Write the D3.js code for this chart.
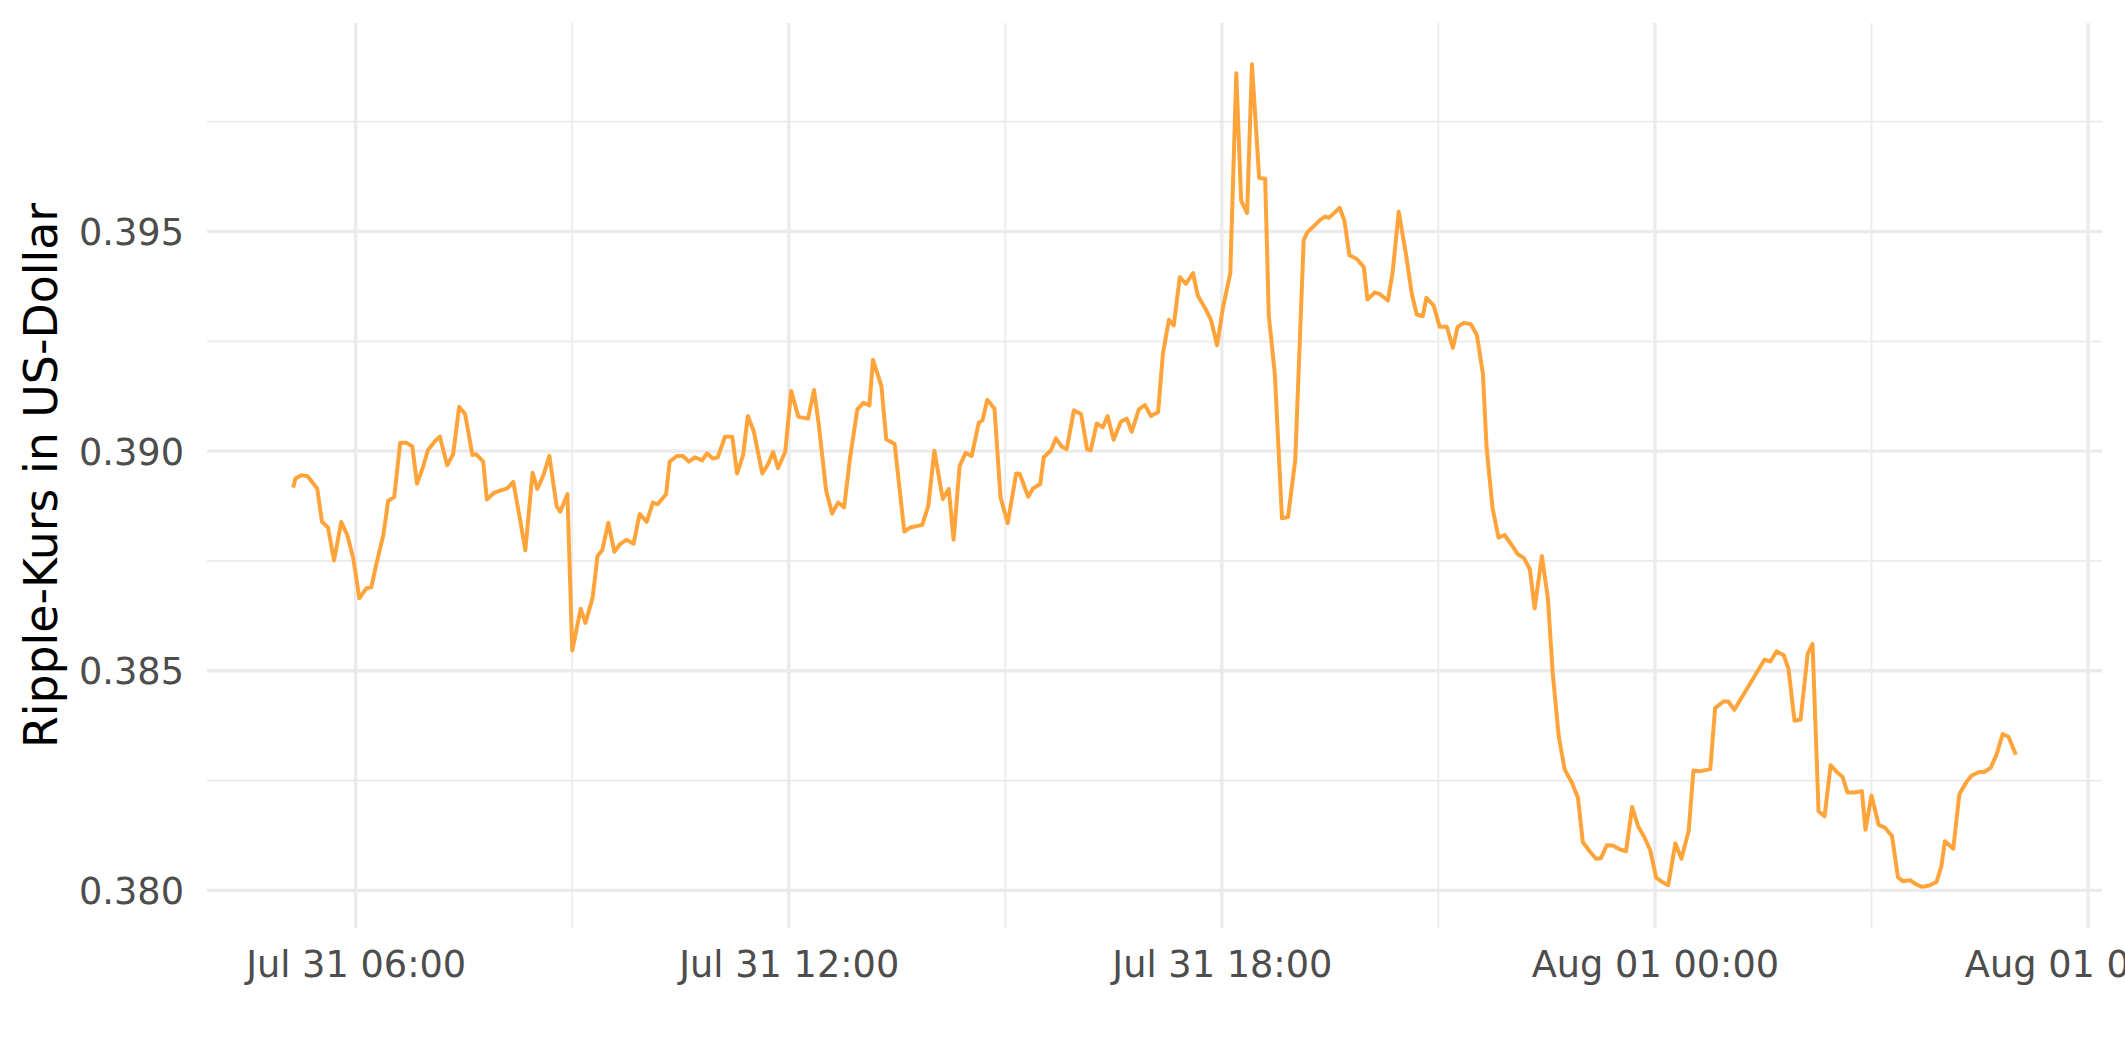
<!DOCTYPE html>
<html>
<head>
<meta charset="utf-8">
<script src="https://cdn.jsdelivr.net/npm/d3@7"></script>
<style>
  html, body { margin: 0; padding: 0; background: #ffffff; }
  svg { display: block; font-family: "DejaVu Sans", sans-serif; }
</style>
</head>
<body>
<svg id="chart" width="2125" height="1062"></svg>
<script>
// ---- data: minutes after Jul 31 00:00 and Ripple price in USD ----
const minutes = [
  308,310,315,320,328,332,337,342,348,353,358,363,369,373,377,383,387,392,397,402,
  407,411,416,420,426,430,436,441,446,451,457,460,466,469,475,480,486,491,496,501,
  507,511,516,521,527,530,536,540,547,551,557,561,565,570,575,580,585,591,596,602,
  607,611,618,621,627,632,637,642,648,652,657,661,667,673,677,682,686,691,698,703,
  707,711,717,722,728,736,741,745,751,756,761,766,771,777,782,787,790,797,801,808,
  816,821,831,836,841,848,853,857,862,867,872,878,881,885,891,896,902,909,912,919,
  923,929,932,938,942,947,951,957,963,968,971,976,981,985,990,996,1001,1005,1011,1016,
  1021,1027,1031,1036,1040,1045,1050,1056,1060,1066,1071,1076,1081,1087,1092,1096,1101,1105,1111,1116,
  1119,1124,1130,1135,1141,1148,1151,1157,1162,1166,1169,1178,1182,1186,1192,1198,1201,1207,1211,1218,
  1222,1227,1233,1238,1242,1247,1250,1256,1261,1267,1272,1276,1281,1287,1292,1297,1300,1305,1310,1315,
  1321,1326,1331,1336,1340,1346,1351,1355,1360,1365,1371,1376,1380,1386,1391,1395,1400,1405,1411,1416,
  1421,1426,1431,1436,1441,1446,1451,1457,1462,1468,1472,1477,1486,1490,1497,1501,1506,1531,1536,1541,
  1547,1551,1556,1561,1567,1571,1576,1581,1586,1591,1596,1600,1606,1612,1615,1620,1626,1631,1637,1642,
  1646,1652,1657,1662,1668,1674,1678,1681,1688,1693,1699,1703,1709,1714,1719,1724,1729,1734,1740
];
const prices = [
  0.38917,0.38938,0.38945,0.38943,0.38915,0.38839,0.38826,0.38751,0.38839,0.38809,0.38756,0.38665,0.38688,0.38690,0.38741,0.38809,0.38887,0.38895,0.39019,0.39019,
  0.39011,0.38926,0.38964,0.39002,0.39023,0.39033,0.38968,0.38993,0.39101,0.39084,0.38991,0.38993,0.38976,0.38890,0.38905,0.38910,0.38915,0.38930,0.38854,0.38774,
  0.38951,0.38914,0.38945,0.38989,0.38875,0.38862,0.38902,0.38546,0.38641,0.38609,0.38667,0.38761,0.38775,0.38837,0.38771,0.38789,0.38798,0.38789,0.38857,0.38839,
  0.38883,0.38879,0.38902,0.38976,0.38989,0.38989,0.38976,0.38986,0.38979,0.38995,0.38983,0.38986,0.39033,0.39033,0.38949,0.38991,0.39080,0.39044,0.38949,0.38972,
  0.38998,0.38961,0.38998,0.39137,0.39078,0.39074,0.39139,0.39059,0.38911,0.38858,0.38883,0.38872,0.38986,0.39095,0.39110,0.39104,0.39208,0.39148,0.39027,0.39016,
  0.38817,0.38826,0.38832,0.38876,0.39001,0.38891,0.38914,0.38798,0.38966,0.38996,0.38989,0.39065,0.39070,0.39117,0.39097,0.38895,0.38836,0.38949,0.38948,0.38896,
  0.38915,0.38925,0.38986,0.39002,0.39029,0.39010,0.39004,0.39093,0.39084,0.39004,0.39002,0.39063,0.39054,0.39080,0.39026,0.39067,0.39074,0.39044,0.39095,0.39105,
  0.39080,0.39089,0.39222,0.39299,0.39286,0.39396,0.39381,0.39405,0.39354,0.39326,0.39298,0.39241,0.39328,0.39405,0.39860,0.39570,0.39542,0.39881,0.39622,0.39620,
  0.39309,0.39176,0.38847,0.38850,0.38980,0.39480,0.39498,0.39514,0.39527,0.39534,0.39531,0.39554,0.39523,0.39446,0.39438,0.39419,0.39345,0.39361,0.39358,0.39343,
  0.39408,0.39545,0.39449,0.39356,0.39311,0.39307,0.39349,0.39332,0.39283,0.39283,0.39235,0.39283,0.39292,0.39289,0.39264,0.39176,0.39010,0.38870,0.38803,0.38809,
  0.38786,0.38765,0.38757,0.38731,0.38642,0.38761,0.38665,0.38495,0.38351,0.38275,0.38245,0.38211,0.38110,0.38088,0.38072,0.38073,0.38103,0.38102,0.38093,0.38089,
  0.38190,0.38146,0.38122,0.38092,0.38029,0.38019,0.38012,0.38107,0.38072,0.38135,0.38273,0.38271,0.38276,0.38415,0.38430,0.38430,0.38411,0.38525,0.38521,0.38544,
  0.38536,0.38504,0.38386,0.38389,0.38539,0.38561,0.38180,0.38169,0.38285,0.38270,0.38258,0.38223,0.38223,0.38226,0.38138,0.38216,0.38149,0.38143,0.38124,0.38030,
  0.38021,0.38023,0.38014,0.38008,0.38011,0.38019,0.38054,0.38112,0.38095,0.38219,0.38247,0.38261,0.38269,0.38270,0.38279,0.38309,0.38356,0.38349,0.38309
];
// ---- axis ticks ----
const yTicks = [0.380, 0.385, 0.390, 0.395];
const yMinorTicks = [0.3825, 0.3875, 0.3925, 0.3975];
const xTickHours = [6, 12, 18, 24, 30];        // hours after Jul 31 00:00
const xMinorTickHours = [9, 15, 21, 27];
const yTitle = "Ripple-Kurs in US-Dollar";

// ---- layout ----
const W = 2125, H = 1062;
const panel = { left: 207, right: 2102, top: 23, bottom: 928 };
const base = Date.UTC(2018, 6, 31, 0, 0);
const toDate = m => new Date(base + m * 60000);
const data = minutes.map((m, i) => ({ t: toDate(m), v: prices[i] }));

// ggplot-like 5% expansion
const tExt = d3.extent(data, d => +d.t);
const tPad = (tExt[1] - tExt[0]) * 0.05;
const vExt = d3.extent(data, d => d.v);
const vPad = (vExt[1] - vExt[0]) * 0.05;

const x = d3.scaleUtc().domain([new Date(tExt[0] - tPad), new Date(tExt[1] + tPad)])
  .range([panel.left, panel.right]);
const y = d3.scaleLinear().domain([vExt[0] - vPad, vExt[1] + vPad])
  .range([panel.bottom, panel.top]);

const svg = d3.select("#chart");
svg.append("rect").attr("width", W).attr("height", H).attr("fill", "#ffffff");

const grid = svg.append("g");
// minor grid
grid.selectAll("line.ymin").data(yMinorTicks).join("line")
  .attr("x1", panel.left).attr("x2", panel.right)
  .attr("y1", d => y(d)).attr("y2", d => y(d))
  .attr("stroke", "#EBEBEB").attr("stroke-width", 1.8);
grid.selectAll("line.xmin").data(xMinorTickHours.map(h => toDate(h * 60))).join("line")
  .attr("y1", panel.top).attr("y2", panel.bottom)
  .attr("x1", d => x(d)).attr("x2", d => x(d))
  .attr("stroke", "#EBEBEB").attr("stroke-width", 1.8);
// major grid
grid.selectAll("line.ymaj").data(yTicks).join("line")
  .attr("x1", panel.left).attr("x2", panel.right)
  .attr("y1", d => y(d)).attr("y2", d => y(d))
  .attr("stroke", "#EBEBEB").attr("stroke-width", 3.4);
grid.selectAll("line.xmaj").data(xTickHours.map(h => toDate(h * 60))).join("line")
  .attr("y1", panel.top).attr("y2", panel.bottom)
  .attr("x1", d => x(d)).attr("x2", d => x(d))
  .attr("stroke", "#EBEBEB").attr("stroke-width", 3.4);

// line
const line = d3.line().x(d => x(d.t)).y(d => y(d.v));
svg.append("path").datum(data)
  .attr("d", line)
  .attr("fill", "none")
  .attr("stroke", "#FFA43A")
  .attr("stroke-width", 4)
  .attr("stroke-linejoin", "round");

// axes (text only, like theme_minimal)
const fmt = d3.utcFormat("%b %d %H:%M");
const xAxis = d3.axisBottom(x)
  .tickValues(xTickHours.map(h => toDate(h * 60)))
  .tickFormat(fmt).tickSize(0).tickPadding(0);
const gx = svg.append("g").attr("transform", `translate(0,${panel.bottom})`).call(xAxis);
gx.select(".domain").remove();
gx.selectAll("text").attr("y", 49).attr("dy", 0)
  .attr("font-size", 36.7).attr("fill", "#4D4D4D")
  .attr("font-family", "DejaVu Sans");

const yAxis = d3.axisLeft(y).tickValues(yTicks).tickFormat(d3.format(".3f"))
  .tickSize(0).tickPadding(0);
const gy = svg.append("g").attr("transform", `translate(${panel.left - 23},0)`).call(yAxis);
gy.select(".domain").remove();
gy.selectAll("text").attr("x", 0).attr("dy", "0.36em")
  .attr("font-size", 36.7).attr("fill", "#4D4D4D")
  .attr("font-family", "DejaVu Sans");

// y title
svg.append("text")
  .attr("transform", `translate(57,${(panel.top + panel.bottom) / 2}) rotate(-90)`)
  .attr("text-anchor", "middle")
  .attr("font-size", 45.8)
  .attr("fill", "#000000")
  .attr("font-family", "DejaVu Sans")
  .text(yTitle);
</script>
</body>
</html>
